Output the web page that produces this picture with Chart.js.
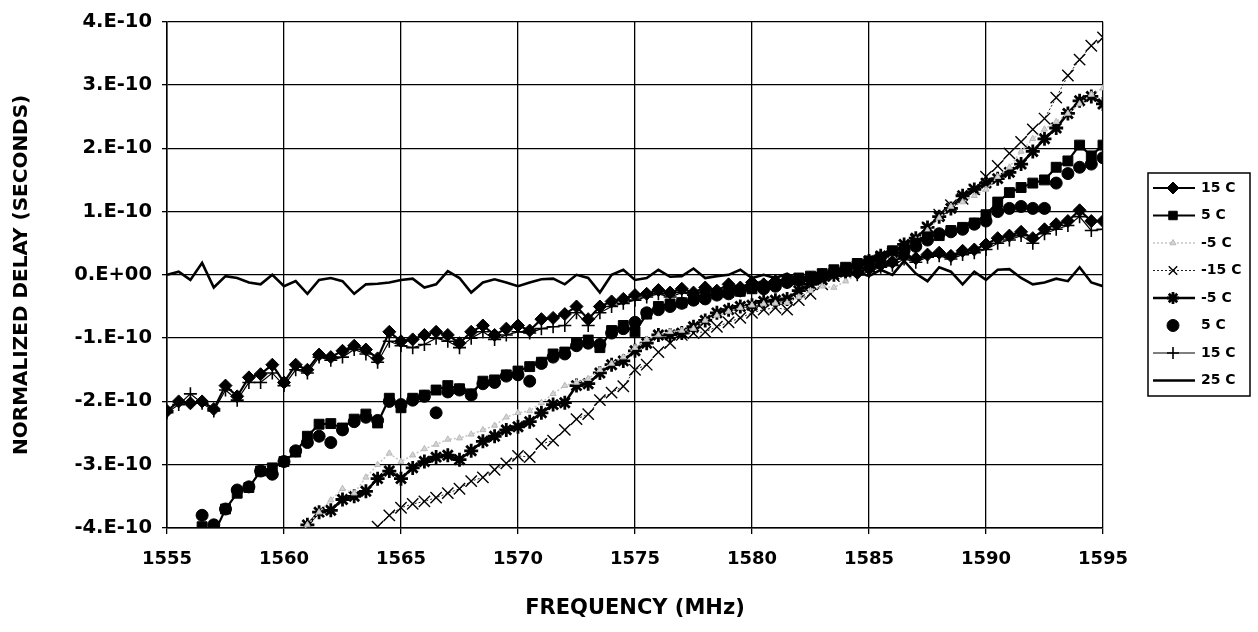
<!DOCTYPE html>
<html>
<head>
<meta charset="utf-8">
<script src="https://cdn.jsdelivr.net/npm/chart.js@4.4.1/dist/chart.umd.min.js"></script>
<style>
  body { margin: 0; background: #fff; }
  #wrap { width: 1258px; height: 632px; }
</style>
</head>
<body>
<div id="wrap"><canvas id="chart" width="1258" height="632"></canvas></div>
<script>
// frequency in MHz
const FREQ = [
  1555, 1555.5, 1556, 1556.5, 1557, 1557.5, 1558, 1558.5, 1559, 1559.5,
  1560, 1560.5, 1561, 1561.5, 1562, 1562.5, 1563, 1563.5, 1564, 1564.5,
  1565, 1565.5, 1566, 1566.5, 1567, 1567.5, 1568, 1568.5, 1569, 1569.5,
  1570, 1570.5, 1571, 1571.5, 1572, 1572.5, 1573, 1573.5, 1574, 1574.5,
  1575, 1575.5, 1576, 1576.5, 1577, 1577.5, 1578, 1578.5, 1579, 1579.5,
  1580, 1580.5, 1581, 1581.5, 1582, 1582.5, 1583, 1583.5, 1584, 1584.5,
  1585, 1585.5, 1586, 1586.5, 1587, 1587.5, 1588, 1588.5, 1589, 1589.5,
  1590, 1590.5, 1591, 1591.5, 1592, 1592.5, 1593, 1593.5, 1594, 1594.5,
  1595
];

// normalized delay, in units of 1E-10 seconds
const T15_DIAMOND = [
  -2.15, -2.0, -2.03, -2.0, -2.12, -1.75, -1.92, -1.62, -1.57, -1.42,
  -1.7, -1.42, -1.5, -1.26, -1.3, -1.2, -1.12, -1.18, -1.32, -0.9,
  -1.05, -1.02, -0.95, -0.9, -0.95, -1.08, -0.9, -0.8, -0.95, -0.85,
  -0.8, -0.88, -0.7, -0.68, -0.62, -0.5, -0.7, -0.5, -0.42, -0.38,
  -0.32, -0.3, -0.24, -0.28, -0.22, -0.28, -0.2, -0.25, -0.15, -0.2,
  -0.12, -0.15, -0.1, -0.08, -0.1, -0.05, 0.0, 0.03, 0.05, 0.03,
  0.1, 0.16, 0.2, 0.3, 0.26, 0.32, 0.35, 0.3, 0.38, 0.4,
  0.48, 0.58, 0.62, 0.68, 0.58, 0.72, 0.8, 0.85, 1.02, 0.85,
  0.85
];
const T5_SQUARE = [
  -4.8, -4.6, -4.35, -3.98, -4.1, -3.7, -3.45, -3.36, -3.1, -3.05,
  -2.95, -2.8, -2.55, -2.36, -2.35, -2.42, -2.28, -2.2, -2.34, -1.95,
  -2.1, -1.95, -1.9, -1.82, -1.75, -1.8, -1.88, -1.68, -1.66, -1.58,
  -1.52, -1.45, -1.38, -1.25, -1.22, -1.08, -1.03, -1.15, -0.88, -0.8,
  -0.9, -0.62, -0.5, -0.46, -0.44, -0.38, -0.33, -0.3, -0.28, -0.26,
  -0.22, -0.18, -0.15, -0.1, -0.05, -0.02, 0.02, 0.08, 0.12, 0.18,
  0.22, 0.28, 0.38, 0.42, 0.5, 0.6, 0.62, 0.7, 0.75, 0.82,
  0.95, 1.15, 1.3, 1.38, 1.45, 1.5, 1.7, 1.8, 2.05, 1.88,
  2.05
];
const TM5_GRAY = [
  null, null, null, null, null, null, null, null, null, null,
  null, -4.2, -3.95, -3.75, -3.56, -3.38, -3.45, -3.2, -3.0, -2.82,
  -2.95, -2.85, -2.75, -2.68, -2.6, -2.58, -2.52, -2.45, -2.38, -2.25,
  -2.18, -2.15, -2.02, -1.88, -1.75, -1.7, -1.64, -1.5, -1.4, -1.3,
  -1.15, -1.02, -0.95, -0.9, -0.88, -0.85, -0.72, -0.64, -0.58, -0.52,
  -0.48, -0.46, -0.45, -0.44, -0.35, -0.25, -0.18, -0.2, -0.1, 0.0,
  0.08, 0.18, 0.3, 0.42, 0.55, 0.7, 0.9, 1.08, 1.15, 1.25,
  1.35, 1.55, 1.7, 1.95, 2.15, 2.3, 2.42, 2.55, 2.7, 2.85,
  2.95
];
const TM15_X = [
  null, null, null, null, null, null, null, null, null, null,
  null, null, null, null, null, null, null, -4.3, -3.98, -3.8,
  -3.68, -3.62, -3.58, -3.52, -3.45, -3.38, -3.26, -3.2, -3.08, -2.98,
  -2.86, -2.88, -2.67, -2.62, -2.45, -2.28, -2.2, -1.98, -1.86, -1.76,
  -1.5, -1.42, -1.22, -1.08, -0.95, -0.92, -0.9, -0.82, -0.75, -0.68,
  -0.6, -0.55, -0.52, -0.55, -0.4, -0.3, -0.15, -0.02, 0.05, 0.1,
  0.15, 0.2, 0.25, 0.35, 0.55, 0.75, 0.95, 1.1, 1.2, 1.35,
  1.55, 1.72, 1.92, 2.1, 2.3, 2.47, 2.8, 3.15, 3.4, 3.62,
  3.75
];
const TM5_STAR = [
  null, null, null, null, null, null, null, null, null, null,
  null, -4.3, -3.95, -3.75, -3.72, -3.55, -3.5, -3.42, -3.22, -3.1,
  -3.22, -3.05, -2.95, -2.88, -2.85, -2.92, -2.78, -2.63, -2.55, -2.45,
  -2.4, -2.32, -2.18, -2.05, -2.02, -1.75, -1.72, -1.55, -1.42, -1.36,
  -1.2, -1.08, -0.95, -0.95, -0.92, -0.82, -0.72, -0.6, -0.55, -0.5,
  -0.48, -0.42, -0.4, -0.38, -0.25, -0.15, -0.08, 0.0, 0.05, 0.15,
  0.22, 0.3, 0.35, 0.48, 0.58, 0.75, 0.92, 1.05, 1.25, 1.35,
  1.45, 1.52, 1.62, 1.75, 1.95, 2.15, 2.32, 2.55, 2.75, 2.82,
  2.7
];
const T5_CIRCLE = [
  -4.7, -4.4, -4.1, -3.8, -3.95, -3.7, -3.4, -3.35, -3.1, -3.15,
  -2.95, -2.78, -2.65, -2.55, -2.65, -2.45, -2.32, -2.25, -2.3, -2.0,
  -2.05, -1.98, -1.92, -2.18, -1.85, -1.82, -1.9, -1.72, -1.7, -1.6,
  -1.58, -1.68, -1.4, -1.3, -1.25, -1.12, -1.08, -1.1, -0.92, -0.85,
  -0.75, -0.6, -0.55, -0.5, -0.45, -0.4, -0.38, -0.32, -0.3, -0.25,
  -0.2, -0.22, -0.18, -0.12, -0.08, -0.05, 0.0, 0.05, 0.08, 0.15,
  0.2, 0.25, 0.35, 0.38, 0.45, 0.55, 0.65, 0.68, 0.72, 0.8,
  0.85, 1.0, 1.05, 1.08, 1.05, 1.05, 1.45, 1.6, 1.7, 1.75,
  1.85
];
const T15_PLUS = [
  -2.18, -2.05, -1.88, -2.03, -2.15, -1.82, -1.98, -1.7, -1.7, -1.55,
  -1.75, -1.5, -1.55, -1.3, -1.35, -1.3, -1.18, -1.25, -1.38, -1.05,
  -1.12, -1.15, -1.1, -1.0, -1.05, -1.15, -1.0, -0.9, -1.02, -0.95,
  -0.9, -0.92, -0.85, -0.82, -0.8, -0.6, -0.8, -0.6, -0.5, -0.45,
  -0.4, -0.35, -0.3, -0.35, -0.28, -0.32, -0.25, -0.3, -0.2, -0.25,
  -0.18, -0.2, -0.15, -0.12, -0.15, -0.08, -0.05, 0.0, 0.02, 0.0,
  0.05, 0.12, 0.15, 0.25, 0.2, 0.28, 0.3, 0.25, 0.32, 0.35,
  0.4, 0.5, 0.55, 0.62, 0.5, 0.65, 0.72, 0.78, 0.92, 0.7,
  0.72
];
const T25_LINE = [
  0.0, 0.05, -0.08, 0.19, -0.2, -0.02, -0.05, -0.12, -0.15, 0.0,
  -0.18, -0.1, -0.3, -0.08, -0.05, -0.1, -0.3, -0.15, -0.14, -0.12,
  -0.08, -0.06, -0.2, -0.15, 0.06, -0.05, -0.28, -0.12, -0.07, -0.12,
  -0.18, -0.12, -0.07, -0.06, -0.15, 0.0, -0.05, -0.28, 0.0, 0.08,
  -0.08, -0.05, 0.08, -0.03, -0.02, 0.1, -0.05, -0.02, 0.0, 0.08,
  -0.05, 0.0, -0.05, 0.02, -0.08, 0.0, 0.05, -0.03, 0.0, 0.05,
  -0.02, 0.08, 0.0, 0.22, 0.02, -0.1, 0.12, 0.05, -0.15, 0.05,
  -0.08, 0.08, 0.09, -0.05, -0.15, -0.12, -0.06, -0.1, 0.12, -0.12,
  -0.18
];

const Y_TICKS = [-4, -3, -2, -1, 0, 1, 2, 3, 4];
const FONT = "DejaVu Sans";

function toPoints(values) {
  return FREQ.map((f, i) => ({ x: f, y: values[i] }));
}

function series(label, values, opts) {
  return Object.assign({
    label: label,
    data: toPoints(values),
    borderColor: "#000",
    backgroundColor: "#000",
    borderWidth: 2,
    pointBackgroundColor: "#000",
    pointBorderColor: "#000",
    pointBorderWidth: 1,
    pointRadius: 5,
    pointStyle: "circle",
    tension: 0,
    fill: false,
    spanGaps: false,
  }, opts);
}

const datasets = [
  series("15 C", T15_DIAMOND, { pointStyle: "rectRot", pointRadius: 6.5, borderWidth: 2.2 }),
  series("5 C", T5_SQUARE, { pointStyle: "rect", pointRadius: 7, borderWidth: 2.2 }),
  series("-5 C", TM5_GRAY, {
    borderColor: "#c4c4c4", borderWidth: 1.5, borderDash: [2, 2],
    pointStyle: "triangle", pointRadius: 3.5,
    pointBackgroundColor: "#d4d4d4", pointBorderColor: "#b8b8b8",
  }),
  series("-15 C", TM15_X, {
    borderColor: "#222", borderWidth: 1, borderDash: [2, 2],
    pointStyle: "crossRot", pointRadius: 8, pointBorderWidth: 1.4,
  }),
  series("-5 C", TM5_STAR, { pointStyle: "star", pointRadius: 7, pointBorderWidth: 2.8, borderWidth: 2.6 }),
  series("5 C", T5_CIRCLE, { showLine: false, pointStyle: "circle", pointRadius: 6 }),
  series("15 C", T15_PLUS, { pointStyle: "cross", pointRadius: 6.5, pointBorderWidth: 1.6, borderWidth: 1.2 }),
  series("25 C", T25_LINE, { pointRadius: 0, borderWidth: 2.6 }),
];

// legend drawn as a framed box with line + marker samples
const boxLegend = {
  id: "boxLegend",
  afterDraw(chart) {
    const ctx = chart.ctx;
    const x0 = 1148, y0 = 173, w = 102, rowH = 27.5;
    ctx.save();
    ctx.strokeStyle = "#000";
    ctx.lineWidth = 1.5;
    ctx.strokeRect(x0, y0, w, rowH * 8 + 3);
    chart.data.datasets.forEach((ds, i) => {
      const y = y0 + 15 + i * rowH;
      if (ds.showLine !== false) {
        ctx.beginPath();
        ctx.setLineDash(ds.borderDash || []);
        ctx.lineWidth = ds.borderWidth;
        ctx.strokeStyle = ds.borderColor;
        ctx.moveTo(x0 + 5, y);
        ctx.lineTo(x0 + 47, y);
        ctx.stroke();
      }
      ctx.setLineDash([]);
      if (ds.pointRadius > 0 && Chart.helpers && Chart.helpers.drawPoint) {
        ctx.fillStyle = ds.pointBackgroundColor;
        ctx.strokeStyle = ds.pointBorderColor;
        ctx.lineWidth = ds.pointBorderWidth;
        Chart.helpers.drawPoint(ctx, {
          pointStyle: ds.pointStyle,
          radius: Math.min(ds.pointRadius, 6),
          borderWidth: ds.pointBorderWidth,
          rotation: 0,
        }, x0 + 25, y);
      }
      ctx.fillStyle = "#000";
      ctx.font = "bold 14px '" + FONT + "'";
      ctx.textBaseline = "middle";
      ctx.textAlign = "left";
      ctx.fillText(ds.label, x0 + 53, y);
    });
    ctx.restore();
  },
};

new Chart(document.getElementById("chart"), {
  type: "line",
  data: { datasets },
  options: {
    responsive: false,
    animation: false,
    layout: { padding: { left: 0, right: 155, top: 16, bottom: 0 } },
    plugins: { legend: { display: false }, tooltip: { enabled: false } },
    scales: {
      x: {
        type: "linear",
        min: 1555,
        max: 1595,
        ticks: {
          stepSize: 5,
          color: "#000",
          padding: 15,
          font: { family: FONT, weight: "bold", size: 18 },
          callback: (v) => String(v),
        },
        grid: { color: "#000", lineWidth: 1.3, tickLength: 6 },
        border: { color: "#000", width: 1.5 },
        title: {
          display: true,
          text: "FREQUENCY (MHz)",
          color: "#000",
          font: { family: FONT, weight: "bold", size: 21 },
          padding: { top: 0, bottom: 11 },
        },
        afterFit(scale) { scale.height = 104; },
      },
      y: {
        min: -4,
        max: 4,
        afterBuildTicks(scale) { scale.ticks = Y_TICKS.map((v) => ({ value: v })); },
        ticks: {
          color: "#000",
          padding: 10,
          font: { family: FONT, weight: "bold", size: 19.5 },
          callback: (v) => (v === 0 ? "0.E+00" : v + ".E-10"),
        },
        grid: { color: "#000", lineWidth: 1.3, tickLength: 5 },
        border: { color: "#000", width: 1.5 },
        title: {
          display: true,
          text: "NORMALIZED DELAY (SECONDS)",
          color: "#000",
          font: { family: FONT, weight: "bold", size: 20 },
          padding: { top: 10, bottom: 0 },
        },
        afterFit(scale) { scale.width = 167; },
      },
    },
  },
  plugins: [boxLegend],
});
</script>
</body>
</html>
